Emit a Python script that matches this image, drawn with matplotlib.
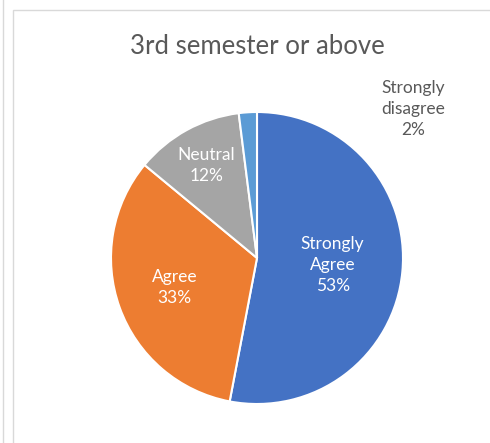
import numpy as np
import matplotlib
matplotlib.use("Agg")
from matplotlib import pyplot as plt
from matplotlib.patches import Rectangle

categories = ["Strongly\nAgree", "Agree", "Neutral", "Strongly\ndisagree"]
values = [53, 33, 12, 2]
colors = ["#4472C4", "#ED7D31", "#A5A5A5", "#5B9BD5"]
title = "3rd semester or above"

plt.rcParams['font.family'] = ['Lato', 'DejaVu Sans']

fig = plt.figure(figsize=(4.9, 4.43), dpi=100)

# chart frame (cropped screenshot look)
fig.add_artist(Rectangle((13 / 490, -0.1), 1.0, 1 - 10 / 443 + 0.1, transform=fig.transFigure,
                         fill=False, edgecolor="#D9D9D9", linewidth=1.0))
fig.add_artist(plt.Line2D([3 / 490, 3 / 490], [0, 1], transform=fig.transFigure,
                          color="#D9D9D9", linewidth=1.0))

ax = fig.add_axes([(257 - 146) / 490, (185 - 146) / 443, 292 / 490, 292 / 443])
wedges, _ = ax.pie(values, colors=colors, startangle=90, counterclock=False,
                   wedgeprops=dict(edgecolor="white", linewidth=1.5))
ax.set_xlim(-1, 1)
ax.set_ylim(-1, 1)
ax.set_aspect("equal")
ax.axis("off")

# inside labels at per-slice radial distance
dists = [0.52, 0.6, 0.72]
for w, cat, v, d in zip(wedges[:3], categories[:3], values[:3], dists):
    ang = np.deg2rad((w.theta1 + w.theta2) / 2)
    ax.text(d * np.cos(ang), d * np.sin(ang), f"{cat}\n{v}%", ha="center", va="center",
            color="white", fontsize=12.5, linespacing=1.4)

# outside label for the small slice
ax.text(1.07, 1.02, f"{categories[3]}\n{values[3]}%", ha="center", va="center",
        color="#595959", fontsize=12.5, linespacing=1.4)

fig.text(257 / 490, 1 - 47 / 443, title, ha="center", va="center",
         color="#595959", fontsize=18.5)

fig.savefig("out.png", dpi=100)
